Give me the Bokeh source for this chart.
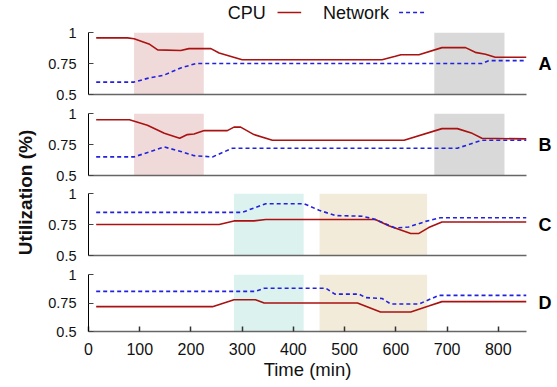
import math
from bokeh.plotting import figure
from bokeh.layouts import row, column
from bokeh.models import BoxAnnotation, Label, Range1d, LinearAxis
from bokeh.embed import file_html
from bokeh.resources import INLINE

# ---------------- data ----------------
x_ticks = [0, 100, 200, 300, 400, 500, 600, 700, 800]
y_ticks = [0.5, 0.75, 1]
y_tick_labels = ["0.5", "0.75", "1"]
panel_names = ["A", "B", "C", "D"]
series_names = ["CPU", "Network"]

a_cpu_x = [15, 76, 89, 118, 135, 180, 196, 239, 255, 300, 573, 599, 610, 645, 690, 736, 755, 775, 794, 855]
a_cpu_y = [0.957, 0.957, 0.95, 0.908, 0.86, 0.855, 0.87, 0.87, 0.835, 0.78, 0.78, 0.808, 0.82, 0.82, 0.878, 0.878, 0.84, 0.825, 0.80, 0.80]
a_net_x = [15, 89, 115, 148, 180, 210, 768, 781, 855]
a_net_y = [0.60, 0.60, 0.63, 0.657, 0.714, 0.75, 0.75, 0.773, 0.773]

b_cpu_x = [15, 80, 115, 148, 178, 193, 206, 226, 271, 284, 297, 323, 359, 616, 690, 720, 749, 768, 855]
b_cpu_y = [0.949, 0.949, 0.906, 0.84, 0.80, 0.83, 0.835, 0.862, 0.862, 0.89, 0.89, 0.83, 0.784, 0.784, 0.878, 0.878, 0.84, 0.80, 0.795]
b_net_x = [15, 89, 148, 180, 206, 242, 281, 720, 768, 855]
b_net_y = [0.65, 0.65, 0.73, 0.694, 0.66, 0.65, 0.72, 0.72, 0.784, 0.784]

c_cpu_x = [15, 255, 284, 323, 346, 560, 586, 629, 645, 664, 690, 855]
c_cpu_y = [0.75, 0.75, 0.779, 0.779, 0.79, 0.79, 0.74, 0.678, 0.678, 0.725, 0.77, 0.77]
c_net_x = [15, 300, 346, 421, 450, 482, 534, 557, 599, 625, 658, 687, 855]
c_net_y = [0.848, 0.848, 0.917, 0.917, 0.865, 0.822, 0.817, 0.795, 0.722, 0.73, 0.775, 0.805, 0.805]

d_cpu_x = [15, 242, 284, 326, 343, 525, 570, 629, 664, 690, 855]
d_cpu_y = [0.718, 0.718, 0.779, 0.779, 0.75, 0.75, 0.671, 0.671, 0.723, 0.762, 0.762]
d_net_x = [15, 326, 343, 463, 481, 528, 541, 573, 590, 645, 684, 855]
d_net_y = [0.852, 0.852, 0.88, 0.88, 0.828, 0.828, 0.797, 0.79, 0.741, 0.741, 0.817, 0.817]

# shaded intervals (start, end) per panel
ab_shades = [(89, 225), (675, 812)]
cd_shades = [(284, 420), (451, 661)]

X_MAX = 855
FONT = "Liberation Sans"
CPU_COLOR = "#aa1111"
NET_COLOR = "#2222dd"
AB_COLORS = ["#f0d9d9", "#d9d9d9"]
CD_COLORS = ["#dcf2ef", "#f3ebda"]
PANEL_W = 519


def make_panel(name, cx, cy, nx, ny, shades, shade_colors, frame_h, b_top, b_bot, show_x):
    p = figure(width=PANEL_W, height=b_top + frame_h + b_bot,
               x_range=Range1d(0, X_MAX), y_range=Range1d(0.5, 1.0),
               output_backend="svg", toolbar_location=None,
               min_border_left=50, min_border_right=31,
               min_border_top=b_top, min_border_bottom=b_bot)
    p.outline_line_color = None
    p.xgrid.visible = False
    p.ygrid.visible = False
    for (s, e), col in zip(shades, shade_colors):
        p.add_layout(BoxAnnotation(left=s, right=e, fill_color=col, fill_alpha=1.0,
                                   line_color=None, level="underlay"))
    p.line(cx, cy, line_color=CPU_COLOR, line_width=1.6)
    p.line(nx, ny, line_color=NET_COLOR, line_width=1.6, line_dash="4 3")

    ya = p.yaxis[0]
    ya.ticker = y_ticks
    ya.major_label_overrides = dict(zip(y_ticks, y_tick_labels))
    ya.minor_tick_line_color = None
    ya.major_tick_in = 5
    ya.major_tick_out = 0
    ya.major_label_standoff = 12
    ya.axis_line_color = "black"
    ya.major_tick_line_color = "#444444"
    ya.major_label_text_font = FONT
    ya.major_label_text_font_size = "14.5px"
    ya.major_label_text_color = "#111111"

    xa = p.xaxis[0]
    xa.axis_line_color = "#666666"
    xa.axis_line_width = 1.5
    xa.minor_tick_line_color = None
    if show_x:
        xa.ticker = x_ticks
        xa.major_tick_in = 5
        xa.major_tick_out = 0
        xa.major_tick_line_color = "#333333"
        xa.major_tick_line_width = 1.5
        xa.major_label_standoff = 11
        xa.major_label_text_font = FONT
        xa.major_label_text_font_size = "16px"
        xa.major_label_text_color = "#111111"
        xa.axis_label = "Time (min)"
        xa.axis_label_text_font = FONT
        xa.axis_label_text_font_size = "18.5px"
        xa.axis_label_text_font_style = "normal"
        xa.axis_label_standoff = 1
        xa.axis_label_text_color = "#111111"
    else:
        xa.ticker = []
        xa.major_tick_in = 0
        xa.major_tick_out = 0
        xa.major_label_text_font_size = "0px"

    ra = LinearAxis(ticker=[0.75], major_label_overrides={0.75: name},
                    axis_line_color=None, major_tick_line_color=None,
                    minor_tick_line_color=None, major_tick_in=0, major_tick_out=0,
                    major_label_standoff=12, major_label_text_font=FONT,
                    major_label_text_font_size="18px", major_label_text_font_style="bold",
                    major_label_text_color="black")
    p.add_layout(ra, "right")
    return p


pA = make_panel(panel_names[0], a_cpu_x, a_cpu_y, a_net_x, a_net_y, ab_shades, AB_COLORS, 62, 9, 9, False)
pB = make_panel(panel_names[1], b_cpu_x, b_cpu_y, b_net_x, b_net_y, ab_shades, AB_COLORS, 62, 10, 9, False)
pC = make_panel(panel_names[2], c_cpu_x, c_cpu_y, c_net_x, c_net_y, cd_shades, CD_COLORS, 62, 9, 9, False)
pD = make_panel(panel_names[3], d_cpu_x, d_cpu_y, d_net_x, d_net_y, cd_shades, CD_COLORS, 57, 10, 56, True)

# legend strip
LEG_H = 23
LEG_Y = 11
leg = figure(width=PANEL_W, height=LEG_H, x_range=Range1d(0, PANEL_W), y_range=Range1d(0, LEG_H),
             output_backend="svg", toolbar_location=None,
             min_border_left=0, min_border_right=0, min_border_top=0, min_border_bottom=0)
leg.axis.visible = False
leg.grid.visible = False
leg.outline_line_color = None
leg.add_layout(Label(x=210, y=LEG_Y, text=series_names[0], text_font=FONT, text_font_size="18px",
                     text_align="right", text_baseline="middle", text_color="#111111"))
leg.line([224, 252], [LEG_Y, LEG_Y], line_color=CPU_COLOR, line_width=1.6)
leg.add_layout(Label(x=356, y=LEG_Y, text=series_names[1], text_font=FONT, text_font_size="18px",
                     text_align="right", text_baseline="middle", text_color="#111111"))
leg.line([368, 398], [LEG_Y, LEG_Y], line_color=NET_COLOR, line_width=1.6, line_dash="4 3")

# y title strip
TOTAL_H = LEG_H + pA.height + pB.height + pC.height + pD.height
yt = figure(width=38, height=TOTAL_H, x_range=Range1d(0, 38), y_range=Range1d(0, TOTAL_H),
            output_backend="svg", toolbar_location=None,
            min_border_left=0, min_border_right=0, min_border_top=0, min_border_bottom=0)
yt.axis.visible = False
yt.grid.visible = False
yt.outline_line_color = None
yt.add_layout(Label(x=25, y=TOTAL_H - 192, text="Utilization (%)", angle=math.pi / 2,
                    text_font=FONT, text_font_size="19px", text_font_style="bold",
                    text_align="center", text_baseline="middle", text_color="#111111"))

layout = row(yt, column(leg, pA, pB, pC, pD, spacing=0), spacing=0)

open("out.html", "w").write(file_html(layout, INLINE))
